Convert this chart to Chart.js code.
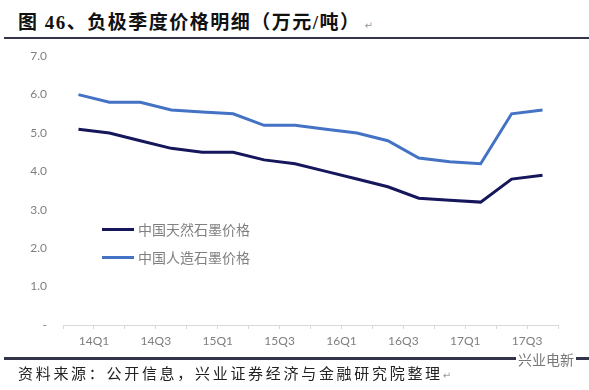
<!DOCTYPE html>
<html>
<head>
<meta charset="utf-8">
<script src="https://cdn.jsdelivr.net/npm/chart.js@4.4.0/dist/chart.umd.min.js"></script>
<style>
  body { margin: 0; width: 589px; height: 390px; background: #fff; position: relative; overflow: hidden; }
  #title { position: absolute; left: 18px; top: 7px; font: bold 19px "Liberation Serif", "Noto Sans CJK SC"; color: #111; letter-spacing: 1.5px; white-space: nowrap; }
  #title .mark { font: 10px "DejaVu Sans"; color: #999; margin-left: 4px; font-weight: normal; letter-spacing: 0; }
  .rule { position: absolute; left: 4px; right: 0; background: #33334a; }
  #box { position: absolute; left: 0; top: 33px; width: 589px; height: 322px; }
  #legend { position: absolute; left: 102px; top: 215px; font: 14px "Noto Sans CJK SC"; color: #808080; }
  #legend div { height: 28px; display: flex; align-items: center; }
  #legend span.sw { display: inline-block; width: 32px; height: 3px; margin-right: 4px; }
  #foot { position: absolute; left: 18px; top: 362px; font: 15px "Noto Sans CJK SC"; color: #222; letter-spacing: 2.7px; white-space: nowrap; }
  #foot .mark { font: 10px "DejaVu Sans"; color: #999; letter-spacing: 0; }
  #wm { position: absolute; left: 516px; top: 349px; font: 14px "Noto Sans CJK SC"; color: #777; background: #fff; padding: 0 2px; }
</style>
</head>
<body>
<div id="title">图 46、负极季度价格明细（万元/吨）<span class="mark">↵</span></div>
<div id="box"><canvas id="myChart"></canvas></div>
<div class="rule" style="top:37px;height:2px;"></div>
<div id="legend"></div>
<div class="rule" style="top:357px;height:3px;"></div>
<div id="wm">兴业电新</div>
<div id="foot">资料来源：公开信息，兴业证券经济与金融研究院整理<span class="mark">↵</span></div>
<script>
// 季度
var quarters = ["14Q1", "14Q2", "14Q3", "14Q4", "15Q1", "15Q2", "15Q3", "15Q4",
                "16Q1", "16Q2", "16Q3", "16Q4", "17Q1", "17Q2", "17Q3", "17Q4"];
// 中国天然石墨价格（万元/吨）
var natural = [5.1, 5.0, 4.8, 4.6, 4.5, 4.5, 4.3, 4.2, 4.0, 3.8, 3.6, 3.3, 3.25, 3.2, 3.8, 3.9];
// 中国人造石墨价格（万元/吨）
var artificial = [6.0, 5.8, 5.8, 5.6, 5.55, 5.5, 5.2, 5.2, 5.1, 5.0, 4.8, 4.35, 4.25, 4.2, 5.5, 5.6];
var seriesNames = ["中国天然石墨价格", "中国人造石墨价格"];
var yTicks = [0, 1, 2, 3, 4, 5, 6, 7];

var colors = ["#16165c", "#4472c4"];

// legend
var leg = document.getElementById("legend");
seriesNames.forEach(function(name, i) {
    var row = document.createElement("div");
    row.innerHTML = '<span class="sw" style="background:' + colors[i] + '"></span>' + name;
    leg.appendChild(row);
});

var ctx = document.getElementById("myChart").getContext("2d");
var myChart = new Chart(ctx, {
    type: "line",
    data: {
        labels: quarters,
        datasets: [
            { label: seriesNames[0], data: natural, borderColor: colors[0], borderWidth: 3, pointRadius: 0, tension: 0 },
            { label: seriesNames[1], data: artificial, borderColor: colors[1], borderWidth: 3, pointRadius: 0, tension: 0 }
        ]
    },
    options: {
        responsive: true,
        maintainAspectRatio: false,
        animation: false,
        layout: { padding: { top: 9, right: 31, bottom: 0, left: 0 } },
        plugins: { legend: { display: false }, tooltip: { enabled: false } },
        scales: {
            x: {
                offset: true,
                afterFit: function(s) { s.height = 30; },
                grid: { display: true, offset: true, drawOnChartArea: false, drawTicks: true, tickLength: 4, color: "#d9d9d9" },
                border: { color: "#d9d9d9", width: 1 },
                ticks: {
                    autoSkip: false,
                    maxRotation: 0,
                    padding: 5,
                    labelOffset: 15.5,
                    color: "#7f7f7f",
                    font: { family: "Lato", size: 12 },
                    callback: function(v, i) { return i % 2 === 0 ? this.getLabelForValue(v) : ""; }
                }
            },
            y: {
                min: 0,
                max: 7,
                afterFit: function(s) { s.width = 63; },
                afterBuildTicks: function(s) { s.ticks = yTicks.map(function(v) { return { value: v }; }); },
                grid: { display: false, drawTicks: false },
                border: { display: false },
                ticks: {
                    padding: 16,
                    color: "#7f7f7f",
                    font: { family: "Lato", size: 12 },
                    callback: function(v) { return v === 0 ? "-" : v.toFixed(1); }
                }
            }
        }
    }
});
</script>
</body>
</html>
